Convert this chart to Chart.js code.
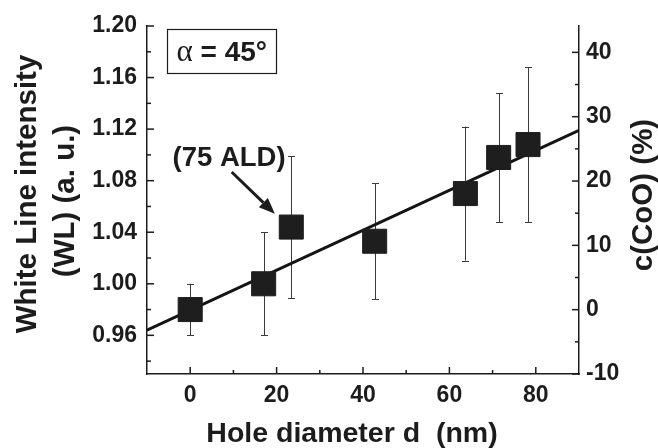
<!DOCTYPE html>
<html>
<head>
<meta charset="utf-8">
<script src="https://cdn.jsdelivr.net/npm/chart.js@4.4.1/dist/chart.umd.min.js"></script>
<style>
  html, body { margin: 0; padding: 0; background: #fff; }
  canvas { display: block; }
</style>
</head>
<body>
<canvas id="myChart" width="658" height="448"></canvas>
<script>
// hole diameter (nm) and white line intensity with symmetric error
const holeDiameter = [0, 17, 23.4, 42.7, 63.7, 71.4, 78.2];
const wlIntensity = [0.980, 1.000, 1.044, 1.033, 1.070, 1.098, 1.108];
const wlError = [0.020, 0.040, 0.055, 0.045, 0.052, 0.050, 0.060];

// linear fit drawn across the whole axis
const fitX = [-10, 90];
const fitY = [0.964, 1.119];

const xTicks = [0, 20, 40, 60, 80];
const xMinor = [10, 30, 50, 70];
const wlTicks = [0.96, 1.00, 1.04, 1.08, 1.12, 1.16, 1.20];
const wlMinor = [0.94, 0.98, 1.02, 1.06, 1.10, 1.14, 1.18];
const cooTicks = [-10, 0, 10, 20, 30, 40];
const cooMinor = [-5, 5, 15, 25, 35];

const FONT = '"Liberation Sans", Arial, Helvetica, sans-serif';
const INK = '#1c1c1c';

const errorBars = {
  id: 'errorBars',
  beforeDatasetsDraw(chart) {
    const { ctx, scales: { x, y } } = chart;
    ctx.save();
    ctx.strokeStyle = '#3a3a3a';
    ctx.lineWidth = 1;
    holeDiameter.forEach((d, i) => {
      const px = Math.round(x.getPixelForValue(d)) + 0.5;
      const top = y.getPixelForValue(wlIntensity[i] + wlError[i]);
      const bot = y.getPixelForValue(wlIntensity[i] - wlError[i]);
      ctx.beginPath();
      ctx.moveTo(px, top); ctx.lineTo(px, bot);
      ctx.moveTo(px - 3.5, Math.round(top) + 0.5); ctx.lineTo(px + 3.5, Math.round(top) + 0.5);
      ctx.moveTo(px - 3.5, Math.round(bot) + 0.5); ctx.lineTo(px + 3.5, Math.round(bot) + 0.5);
      ctx.stroke();
    });
    ctx.restore();
  }
};

const decorations = {
  id: 'decorations',
  afterDraw(chart) {
    const { ctx, chartArea: a, scales: { x, y, y1 } } = chart;
    ctx.save();
    ctx.strokeStyle = INK;
    ctx.lineWidth = 1.5;

    // inward tick marks
    const vTick = (scale, vals, len, left) => vals.forEach(v => {
      const py = scale.getPixelForValue(v);
      const ax = left ? a.left : a.right;
      ctx.beginPath();
      ctx.moveTo(ax, py); ctx.lineTo(left ? ax + len : ax - len, py);
      ctx.stroke();
    });
    vTick(y, wlTicks, 7, true);
    vTick(y, wlMinor, 4, true);
    vTick(y1, cooTicks, 7, false);
    vTick(y1, cooMinor, 4, false);
    const hTick = (vals, len) => vals.forEach(v => {
      const px = x.getPixelForValue(v);
      ctx.beginPath();
      ctx.moveTo(px, a.bottom); ctx.lineTo(px, a.bottom - len);
      ctx.stroke();
    });
    hTick(xTicks, 7);
    hTick(xMinor, 4);

    ctx.fillStyle = INK;

    // axis titles
    ctx.font = 'bold 28.5px ' + FONT;
    ctx.textAlign = 'center';
    ctx.textBaseline = 'alphabetic';
    ctx.fillText('Hole diameter d  (nm)', 352, 442);

    ctx.font = 'bold 29.5px ' + FONT;
    ctx.textBaseline = 'middle';
    ctx.save();
    ctx.translate(28, 194);
    ctx.rotate(-Math.PI / 2);
    ctx.fillText('White Line intensity', 0, 0);
    ctx.restore();
    ctx.save();
    ctx.translate(66, 201);
    ctx.rotate(-Math.PI / 2);
    ctx.fillText('(WL) (a. u.)', 0, 0);
    ctx.restore();
    ctx.save();
    ctx.translate(644, 195);
    ctx.rotate(-Math.PI / 2);
    ctx.fillText('c(CoO) (%)', 0, 0);
    ctx.restore();

    // alpha box
    const bx0 = x.getPixelForValue(-5.3), bx1 = x.getPixelForValue(19.9);
    const by0 = y.getPixelForValue(1.1977), by1 = y.getPixelForValue(1.1637);
    ctx.lineWidth = 1.2;
    ctx.strokeRect(Math.round(bx0) + 0.5, Math.round(by0) + 0.5, Math.round(bx1 - bx0), Math.round(by1 - by0));
    ctx.textBaseline = 'alphabetic';
    ctx.textAlign = 'left';
    const aFont = '31px "Liberation Serif", "Times New Roman", serif';
    const rFont = 'bold 28px ' + FONT;
    ctx.font = aFont;
    const wA = ctx.measureText('\u03b1').width;
    ctx.font = rFont;
    const wR = ctx.measureText(' = 45\u00b0').width;
    const cx = (bx0 + bx1) / 2;
    const base = y.getPixelForValue(1.1727);
    ctx.font = aFont;
    ctx.fillText('\u03b1', cx - (wA + wR) / 2, base);
    ctx.font = rFont;
    ctx.fillText(' = 45\u00b0', cx - (wA + wR) / 2 + wA, base);

    // (75 ALD) label and arrow
    ctx.font = 'bold 27.5px ' + FONT;
    ctx.textAlign = 'center';
    ctx.fillText('(75 ALD)', x.getPixelForValue(9.0), y.getPixelForValue(1.0911));
    const sx = x.getPixelForValue(9.6), sy = y.getPixelForValue(1.0867);
    const tx = x.getPixelForValue(19.6), ty = y.getPixelForValue(1.0544);
    const ang = Math.atan2(ty - sy, tx - sx);
    const hl = 16, hw = 6.5;
    ctx.lineWidth = 3;
    ctx.beginPath();
    ctx.moveTo(sx, sy);
    ctx.lineTo(tx - hl * Math.cos(ang), ty - hl * Math.sin(ang));
    ctx.stroke();
    ctx.beginPath();
    ctx.moveTo(tx, ty);
    ctx.lineTo(tx - hl * Math.cos(ang) + hw * Math.sin(ang), ty - hl * Math.sin(ang) - hw * Math.cos(ang));
    ctx.lineTo(tx - hl * Math.cos(ang) - hw * Math.sin(ang), ty - hl * Math.sin(ang) + hw * Math.cos(ang));
    ctx.closePath();
    ctx.fill();

    ctx.restore();
  }
};

const data = {
  datasets: [
    {
      label: 'WL',
      data: holeDiameter.map((d, i) => ({ x: d, y: wlIntensity[i] })),
      pointStyle: 'rect',
      pointRadius: 17,
      pointBackgroundColor: '#1e1e1e',
      pointBorderColor: '#1e1e1e',
      pointBorderWidth: 1,
      showLine: false,
      yAxisID: 'y'
    },
    {
      label: 'fit',
      data: fitX.map((d, i) => ({ x: d, y: fitY[i] })),
      showLine: true,
      borderColor: '#141414',
      borderWidth: 3,
      pointRadius: 0,
      yAxisID: 'y'
    }
  ]
};

const config = {
  type: 'scatter',
  data,
  options: {
    responsive: false,
    animation: false,
    devicePixelRatio: 1,
    layout: { padding: { top: 26, left: 0, right: 0, bottom: 0 } },
    plugins: { legend: { display: false }, tooltip: { enabled: false } },
    scales: {
      x: {
        type: 'linear',
        min: -10,
        max: 90,
        afterBuildTicks: s => { s.ticks = xTicks.map(v => ({ value: v })); },
        afterFit: s => { s.height = 74; },
        grid: { display: false, drawTicks: false },
        border: { display: true, color: INK, width: 1.5 },
        ticks: { color: INK, padding: 8, font: { family: FONT, size: 23, weight: 'bold' } }
      },
      y: {
        position: 'left',
        min: 0.93,
        max: 1.20,
        afterBuildTicks: s => { s.ticks = wlTicks.map(v => ({ value: v })); },
        afterFit: s => { s.width = 147; },
        grid: { display: false, drawTicks: false },
        border: { display: true, color: INK, width: 1.5 },
        ticks: { color: INK, padding: 10, font: { family: FONT, size: 23, weight: 'bold' },
                 callback: v => v.toFixed(2) }
      },
      y1: {
        position: 'right',
        min: -10,
        max: 44.1,
        afterBuildTicks: s => { s.ticks = cooTicks.map(v => ({ value: v })); },
        afterFit: s => { s.width = 79; },
        grid: { display: false, drawTicks: false },
        border: { display: true, color: INK, width: 1.5 },
        ticks: { color: INK, padding: 7, font: { family: FONT, size: 23, weight: 'bold' } }
      }
    }
  },
  plugins: [errorBars, decorations]
};

new Chart(document.getElementById('myChart'), config);
</script>
</body>
</html>
